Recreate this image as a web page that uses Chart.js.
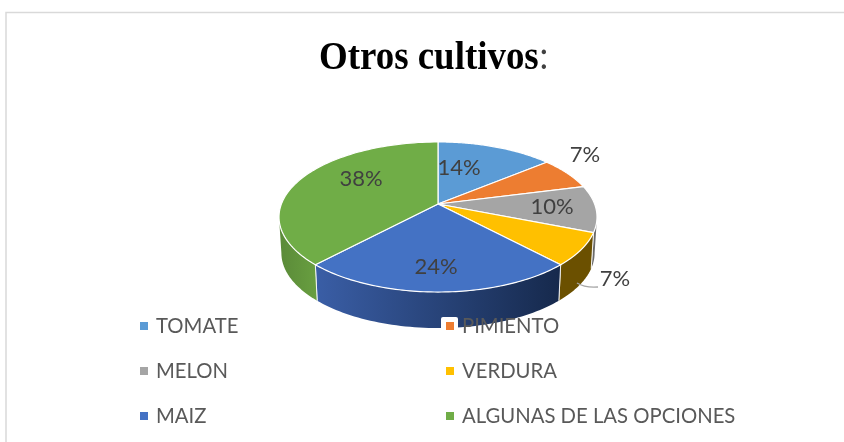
<!DOCTYPE html>
<html><head><meta charset="utf-8">
<style>html,body{margin:0;padding:0;background:#fff}#w{position:absolute;left:0;top:0;width:844px;height:442px}</style>
<script src="https://cdn.jsdelivr.net/npm/chart.js@4"></script>
</head><body><div id="w"><canvas id="c" width="844" height="442"></canvas></div>
<script>
const categories = ['TOMATE','PIMIENTO','MELON','VERDURA','MAIZ','ALGUNAS DE LAS OPCIONES'];
const values = [14,7,10,7,24,38];
const valueLabels = ['14%','7%','10%','7%','24%','38%'];
const colors = ['#5b9bd5','#ed7d31','#a5a5a5','#ffc000','#4472c4','#70ad47'];
const wallColors = [['#3a6a94','#3a6a94'],['#8a4a1c','#8a4a1c'],['#6a6a6a','#6a6a6a'],['#6b5000','#6b5000'],['#3a5ea6','#16294c'],['#5a8a38','#689e40']];
const labelPos = [[459,168],[585,155],[552,207],[615,279],[436,267],[361,179]];
const legendPos = [[140,326],[446,326],[140,371],[446,371],[140,416],[446,416]];

const P = {cx:438, cy:204, a:156.6, c:72.8, k:0.173, depth:36, shrink:0.985};
function proj(ang){
  const u=Math.cos(ang), v=Math.sin(ang), d=1-P.k*v;
  return [P.cx+P.a*u/d, P.cy+P.c*v/d];
}
function low(p){ return [P.cx+(p[0]-P.cx)*P.shrink, p[1]+P.depth]; }

const pie3d = {
  id:'pie3d',
  beforeDatasetsDraw(chart){
    const ctx=chart.ctx, arcs=chart.getDatasetMeta(0).data;
    const vis=Math.asin(P.k);
    ctx.save();
    arcs.forEach((arc,i)=>{
      let s=arc.startAngle, e=arc.endAngle;
      s=Math.max(s,vis); e=Math.min(e,Math.PI-vis);
      if(e<=s) return;
      const top=[];
      for(let j=0;j<=60;j++) top.push(proj(s+(e-s)*j/60));
      const bot=top.map(low).reverse();
      ctx.beginPath();
      top.concat(bot).forEach((p,j)=> j?ctx.lineTo(p[0],p[1]):ctx.moveTo(p[0],p[1]));
      ctx.closePath();
      const g=ctx.createLinearGradient(top[top.length-1][0],0,top[0][0],0);
      g.addColorStop(0,wallColors[i][0]); g.addColorStop(1,wallColors[i][1]);
      ctx.fillStyle=g; ctx.fill();
      ctx.strokeStyle='rgba(255,255,255,.85)'; ctx.lineWidth=1;
      [top[0],top[top.length-1]].forEach(p=>{
        if(Math.abs(p[0]-proj(vis)[0])<3||Math.abs(p[0]-proj(Math.PI-vis)[0])<3) return;
        const q=low(p); ctx.beginPath(); ctx.moveTo(p[0],p[1]); ctx.lineTo(q[0],q[1]); ctx.stroke();
      });
    });
    arcs.forEach((arc,i)=>{
      ctx.beginPath(); ctx.moveTo(P.cx,P.cy);
      for(let j=0;j<=80;j++){const p=proj(arc.startAngle+(arc.endAngle-arc.startAngle)*j/80); ctx.lineTo(p[0],p[1]);}
      ctx.closePath();
      ctx.fillStyle=colors[i]; ctx.fill();
      ctx.strokeStyle='#fff'; ctx.lineWidth=1.2; ctx.lineJoin='round'; ctx.stroke();
    });
    ctx.restore();
    return false;
  },
  afterDraw(chart){
    const ctx=chart.ctx;
    ctx.save();
    ctx.strokeStyle='#d9d9d9'; ctx.lineWidth=1.5;
    ctx.beginPath(); ctx.moveTo(6,442); ctx.lineTo(6,12.5); ctx.lineTo(844,12.5); ctx.stroke();
    // title: tall, slightly condensed serif
    ctx.save();
    ctx.translate(319,69); ctx.scale(0.9,1);
    ctx.textBaseline='alphabetic'; ctx.textAlign='left'; ctx.fillStyle='#000';
    ctx.font='bold 41px "Liberation Serif"';
    const t1='Otros cultivos', w1=ctx.measureText(t1).width;
    ctx.fillText(t1,0,0);
    ctx.font='41px "Liberation Serif"';
    ctx.fillStyle='#404040';
    ctx.fillText(':',w1,0);
    ctx.restore();
    ctx.strokeStyle='#a6a6a6'; ctx.lineWidth=1.3;
    ctx.beginPath(); ctx.moveTo(577,283); ctx.quadraticCurveTo(585,288,598,287); ctx.stroke();
    ctx.font='22px Lato'; ctx.fillStyle='#404040'; ctx.textAlign='center'; ctx.textBaseline='middle';
    valueLabels.forEach((t,i)=>ctx.fillText(t,labelPos[i][0],labelPos[i][1]));
    ctx.textAlign='left'; ctx.font='20.3px Lato';
    chart.data.labels.forEach((t,i)=>{
      const [x,y]=legendPos[i];
      if(i===1){ ctx.fillStyle='#fff'; ctx.beginPath(); ctx.roundRect(x-5,y-9,17,18,2); ctx.fill(); }
      ctx.fillStyle=colors[i]; ctx.fillRect(x,y-4,8,8);
      ctx.fillStyle='#595959'; ctx.fillText(t,x+16,y);
    });
    ctx.restore();
  }
};
new Chart(document.getElementById('c'),{
  type:'pie',
  data:{labels:categories,datasets:[{data:values,backgroundColor:colors}]},
  options:{responsive:false,animation:false,plugins:{legend:{display:false},tooltip:{enabled:false},title:{display:false}}},
  plugins:[pie3d]
});
</script></body></html>
